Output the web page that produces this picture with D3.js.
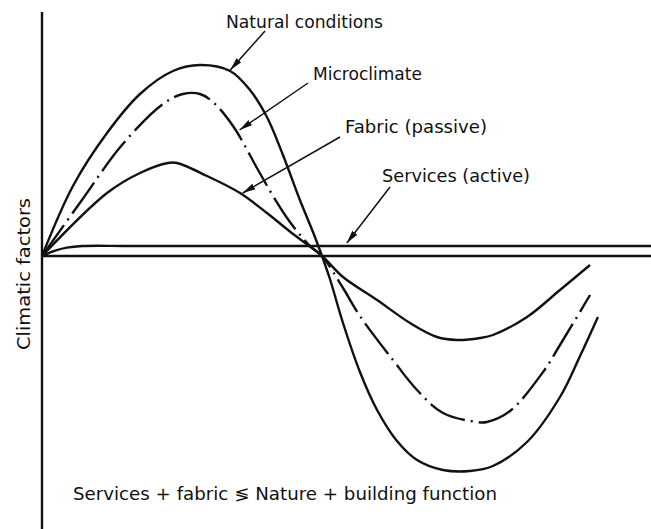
<!DOCTYPE html>
<html>
<head>
<meta charset="utf-8">
<script src="https://cdn.jsdelivr.net/npm/d3@7"></script>
<style>
  body { margin: 0; background: #fff; }
  text { font-family: "DejaVu Sans", sans-serif; fill: #111; }
</style>
</head>
<body>
<div id="chart"></div>
<script>
// phase (degrees) against relative climatic load
const natural = [
  [0, 0], [19.9, 35], [41.8, 61.5], [63, 81], [84.2, 92.5], [101.6, 95.5],
  [120.9, 92.5], [133.7, 83], [144.6, 69.5], [154.9, 50.5], [165.8, 28], [174.2, 12],
  [180, 0], [185.1, -11.5], [193.5, -33.5], [204.4, -58], [215.4, -77], [228.2, -92.5],
  [241.1, -102], [257.8, -107], [275.1, -107.5], [289.9, -105], [311.8, -93],
  [333, -70.5], [345.9, -50], [357.4, -30.5]
]
const microclimate = [
  [0, 0], [25.7, 28], [51.4, 55.5], [77.8, 76], [90.6, 81], [101.6, 81],
  [109.9, 77], [122.8, 65], [138.2, 44], [148.5, 30], [159.4, 17], [172.3, 5],
  [180, 0], [193.5, -16], [204.4, -30], [225.6, -52], [241.1, -67], [257.8, -78.5],
  [279.6, -83], [286, -83], [300.9, -77.5], [322.1, -58], [333, -44.5], [352.3, -19.5]
]
const fabric = [
  [0, 0], [41.8, 31.5], [63, 41.5], [81, 46.5], [86.8, 46.5], [106.1, 40],
  [127.3, 31.5], [144.6, 21.5], [161.4, 11], [180, 0], [193.5, -10.5], [215.4, -22],
  [236.6, -33.5], [253.9, -40.5], [266.8, -42], [281.6, -41], [289.9, -39.5],
  [311.8, -30.5], [333, -17], [352.3, -4.5]
]
const services = [
  [0, 0], [8, 2.6], [16, 4.2], [26, 5], [60, 5], [391.5, 5]
]

// labels and the point of the curve each arrow touches
const labels = ['Natural conditions', 'Microclimate', 'Fabric (passive)', 'Services (active)']
const arrowTargets = [[121, 93], [127, 63], [129, 31.5], [196, 6.5]]
const yTitle = 'Climatic factors'
const note = 'Services + fabric \u2276 Nature + building function'

const width = 651, height = 529

const x = d3.scaleLinear()
  .domain([0, 180])
  .range([42, 322])

const y = d3.scaleLinear()
  .domain([-100, 100])
  .range([456, 56])

const svg = d3.select('#chart')
  .append('svg')
  .attr('width', width)
  .attr('height', height)

svg.append('defs')
  .append('marker')
  .attr('id', 'head')
  .attr('markerUnits', 'userSpaceOnUse')
  .attr('markerWidth', 14)
  .attr('markerHeight', 8)
  .attr('refX', 13)
  .attr('refY', 4)
  .attr('orient', 'auto')
  .append('path')
  .attr('d', 'M0,0.8 L13,4 L0,7.2 Z')
  .attr('fill', '#111')

// axes: plain lines, no ticks
svg.append('line')
  .attr('x1', x(0)).attr('x2', x(0))
  .attr('y1', y(122)).attr('y2', height)
  .attr('stroke', '#111')
  .attr('stroke-width', 2.4)

svg.append('line')
  .attr('x1', x(0)).attr('x2', x(391.5))
  .attr('y1', y(0)).attr('y2', y(0))
  .attr('stroke', '#111')
  .attr('stroke-width', 2.4)

const line = d3.line()
  .x(d => x(d[0]))
  .y(d => y(d[1]))
  .curve(d3.curveCatmullRom.alpha(0.5))

const series = [
  { values: natural, dash: null },
  { values: microclimate, dash: '38,6,2,6' },
  { values: fabric, dash: null },
  { values: services, dash: null }
]

svg.selectAll('.curve')
  .data(series)
  .join('path')
  .attr('class', 'curve')
  .attr('d', d => line(d.values))
  .attr('fill', 'none')
  .attr('stroke', '#111')
  .attr('stroke-width', 2.4)
  .attr('stroke-linejoin', 'round')
  .attr('stroke-dasharray', d => d.dash)

// label placement: [x, baseline, textLength, arrow start x, arrow start y]
const labelPos = [
  [226, 28, 157, 265, 31],
  [313, 80, 109, 308, 83],
  [345, 133, 142, 340, 137],
  [382, 182, 148, 390, 187]
]

svg.selectAll('.label')
  .data(labels)
  .join('text')
  .attr('class', 'label')
  .attr('x', (d, i) => labelPos[i][0])
  .attr('y', (d, i) => labelPos[i][1])
  .attr('textLength', (d, i) => labelPos[i][2])
  .attr('lengthAdjust', 'spacingAndGlyphs')
  .style('font-size', '17px')
  .text(d => d)

svg.selectAll('.arrow')
  .data(arrowTargets)
  .join('line')
  .attr('class', 'arrow')
  .attr('x1', (d, i) => labelPos[i][3])
  .attr('y1', (d, i) => labelPos[i][4])
  .attr('x2', d => x(d[0]))
  .attr('y2', d => y(d[1]))
  .attr('stroke', '#111')
  .attr('stroke-width', 1.5)
  .attr('marker-end', 'url(#head)')

svg.append('text')
  .attr('transform', 'translate(30,274) rotate(-90)')
  .attr('text-anchor', 'middle')
  .attr('textLength', 152)
  .attr('lengthAdjust', 'spacingAndGlyphs')
  .style('font-size', '17px')
  .text(yTitle)

svg.append('text')
  .attr('x', 73)
  .attr('y', 500)
  .attr('textLength', 424)
  .attr('lengthAdjust', 'spacingAndGlyphs')
  .style('font-size', '17px')
  .text(note)
</script>
</body>
</html>
